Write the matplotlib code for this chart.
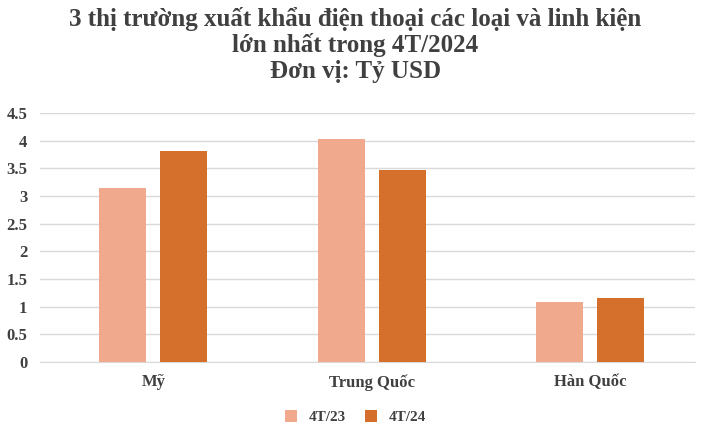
import matplotlib
matplotlib.use("Agg")
import matplotlib.pyplot as plt
import numpy as np

categories = ["Mỹ", "Trung Quốc", "Hàn Quốc"]
series_names = ["4T/23", "4T/24"]
v23 = [3.14, 4.03, 1.08]
v24 = [3.82, 3.47, 1.15]
yticks = [0, 0.5, 1, 1.5, 2, 2.5, 3, 3.5, 4, 4.5]
ylabels = ["0", "0.5", "1", "1.5", "2", "2.5", "3", "3.5", "4", "4.5"]

plt.rcParams['font.family'] = ['Liberation Serif', 'DejaVu Serif']
fig = plt.figure(figsize=(7.11, 4.38), dpi=100)
ax = fig.add_axes([0.056, 0.174, 0.921, 0.568])
x = np.arange(len(categories))
w = 0.215
ax.bar(x - 0.12, v23, w, color="#F0A98C", label=series_names[0], zorder=3)
ax.bar(x + 0.16, v24, w, color="#D4702C", label=series_names[1], zorder=3)
ax.set_xlim(-0.5, 2.5)
ax.set_ylim(0, 4.5)
ax.set_yticks(yticks)
ax.set_yticklabels(ylabels, fontsize=12, fontweight="bold", color="#404040")
ax.set_xticks(x + 0.02)
ax.set_xticklabels(categories, fontsize=12, fontweight="bold", color="#404040")
ax.grid(axis="y", color="#D9D9D9", linewidth=1, zorder=0)
for s in ["top", "right", "left"]:
    ax.spines[s].set_visible(False)
ax.spines["bottom"].set_color("#D9D9D9")
ax.tick_params(length=0, pad=9)
fig.text(0.5, 0.985, "3 thị trường xuất khẩu điện thoại các loại và linh kiện\nlớn nhất trong 4T/2024\nĐơn vị: Tỷ USD",
         ha="center", va="top", fontsize=18, fontweight="bold", color="#404040", linespacing=1.15)
leg = fig.legend(loc="lower center", bbox_to_anchor=(0.5, 0.0), ncol=2, frameon=False,
                 prop={"size": 11, "weight": "bold"}, handlelength=0.8, handleheight=0.8, columnspacing=1.2)
for t in leg.get_texts():
    t.set_color("#404040")
fig.savefig("out.png", dpi=100)
